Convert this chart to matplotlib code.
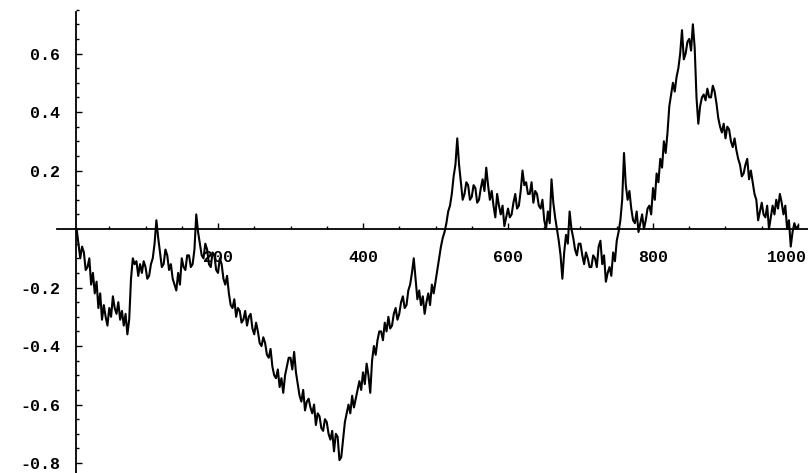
import matplotlib.pyplot as plt
import matplotlib.transforms as mtransforms
import numpy as np
from matplotlib.ticker import MultipleLocator, FixedLocator

# random walk, one value every 2.5 steps from step 5 to 1000
walk = [
    0.00, -0.05, -0.10, -0.06, -0.08, -0.14, -0.13, -0.10, -0.19, -0.15,
    -0.22, -0.18, -0.27, -0.22, -0.31, -0.26, -0.30, -0.33, -0.27, -0.30,
    -0.23, -0.27, -0.29, -0.25, -0.31, -0.28, -0.33, -0.29, -0.36, -0.31,
    -0.17, -0.10, -0.12, -0.11, -0.16, -0.12, -0.15, -0.11, -0.13, -0.17,
    -0.16, -0.12, -0.10, -0.05, 0.03, -0.03, -0.08, -0.13, -0.12, -0.07,
    -0.09, -0.14, -0.12, -0.17, -0.19, -0.21, -0.15, -0.19, -0.10, -0.13,
    -0.14, -0.09, -0.09, -0.13, -0.12, -0.07, 0.05, -0.01, -0.05, -0.09,
    -0.10, -0.05, -0.07, -0.12, -0.13, -0.08, -0.09, -0.14, -0.15, -0.10,
    -0.12, -0.17, -0.19, -0.16, -0.22, -0.26, -0.27, -0.24, -0.30, -0.27,
    -0.28, -0.32, -0.31, -0.28, -0.33, -0.30, -0.29, -0.34, -0.36, -0.32,
    -0.35, -0.39, -0.40, -0.37, -0.39, -0.43, -0.44, -0.41, -0.47, -0.50,
    -0.51, -0.48, -0.54, -0.51, -0.56, -0.50, -0.47, -0.44, -0.44, -0.48,
    -0.42, -0.49, -0.53, -0.57, -0.59, -0.55, -0.62, -0.59, -0.58, -0.61,
    -0.63, -0.60, -0.67, -0.63, -0.64, -0.68, -0.69, -0.65, -0.66, -0.70,
    -0.72, -0.69, -0.76, -0.70, -0.71, -0.79, -0.78, -0.72, -0.66, -0.63,
    -0.60, -0.63, -0.57, -0.61, -0.58, -0.55, -0.52, -0.55, -0.49, -0.53,
    -0.46, -0.50, -0.56, -0.45, -0.40, -0.43, -0.38, -0.35, -0.35, -0.38,
    -0.32, -0.35, -0.30, -0.34, -0.33, -0.29, -0.27, -0.31, -0.29, -0.25,
    -0.23, -0.27, -0.26, -0.21, -0.19, -0.15, -0.10, -0.17, -0.24, -0.21,
    -0.26, -0.23, -0.29, -0.25, -0.22, -0.26, -0.19, -0.22, -0.18, -0.14,
    -0.10, -0.06, -0.03, -0.01, 0.02, 0.06, 0.08, 0.12, 0.18, 0.22,
    0.31, 0.22, 0.16, 0.10, 0.12, 0.16, 0.15, 0.10, 0.11, 0.15,
    0.14, 0.09, 0.10, 0.14, 0.17, 0.13, 0.21, 0.15, 0.10, 0.13,
    0.08, 0.04, 0.12, 0.08, 0.05, 0.08, 0.01, 0.04, 0.07, 0.04,
    0.05, 0.09, 0.12, 0.07, 0.08, 0.13, 0.20, 0.15, 0.16, 0.12,
    0.12, 0.16, 0.09, 0.13, 0.12, 0.08, 0.07, 0.10, 0.03, 0.00,
    0.06, 0.02, 0.17, 0.09, 0.04, 0.00, -0.04, -0.09, -0.17, -0.08,
    -0.02, -0.05, 0.06, 0.00, -0.03, -0.07, -0.09, -0.05, -0.05, -0.09,
    -0.12, -0.08, -0.10, -0.13, -0.13, -0.09, -0.10, -0.13, -0.06, -0.04,
    -0.12, -0.09, -0.18, -0.15, -0.13, -0.16, -0.08, -0.11, -0.04, -0.01,
    0.03, 0.10, 0.26, 0.15, 0.10, 0.13, 0.07, 0.03, 0.02, 0.06,
    -0.01, 0.02, 0.05, 0.00, 0.03, 0.07, 0.08, 0.05, 0.14, 0.10,
    0.19, 0.16, 0.24, 0.21, 0.30, 0.26, 0.33, 0.42, 0.46, 0.50,
    0.47, 0.52, 0.55, 0.60, 0.68, 0.58, 0.60, 0.64, 0.65, 0.61,
    0.70, 0.62, 0.45, 0.36, 0.42, 0.45, 0.46, 0.44, 0.48, 0.45,
    0.45, 0.49, 0.47, 0.43, 0.38, 0.35, 0.33, 0.36, 0.31, 0.35,
    0.34, 0.30, 0.28, 0.31, 0.27, 0.24, 0.22, 0.18, 0.19, 0.22,
    0.24, 0.17, 0.20, 0.16, 0.12, 0.10, 0.03, 0.06, 0.09, 0.05,
    0.04, 0.08, 0.00, 0.04, 0.08, 0.05, 0.10, 0.07, 0.12, 0.09,
    0.05, 0.08, 0.00, 0.03, -0.06, -0.01, 0.02, 0.00, 0.01,
]
steps = np.arange(len(walk)) * 2.5 + 5
xticks = [200, 400, 600, 800, 1000]
yticks = [-0.8, -0.6, -0.4, -0.2, 0.2, 0.4, 0.6]

fig = plt.figure(figsize=(8.08, 4.73), dpi=100)
ax = fig.add_axes([0, 0, 1, 1])
ax.plot(steps, walk, color='black', lw=1.5)

ax.set_xlim(-100.7, 1013.8)
ax.set_ylim(-0.834, 0.783)

# axes cross near the origin, Mathematica style
for s in ['top', 'right']:
    ax.spines[s].set_visible(False)
ax.spines['left'].set_position(('data', 4))
ax.spines['bottom'].set_position(('data', 0))
ax.spines['left'].set_bounds(-0.834, 0.742)
ax.spines['bottom'].set_bounds(-22, 1013.8)
ax.spines['left'].set_linewidth(1.3)
ax.spines['bottom'].set_linewidth(1.3)

ax.xaxis.set_major_locator(FixedLocator(xticks))
ax.xaxis.set_minor_locator(FixedLocator([t for t in range(50, 1001, 50) if t % 200]))
ax.yaxis.set_major_locator(FixedLocator(yticks))
ax.yaxis.set_minor_locator(MultipleLocator(0.05))
# the last label sits against the right edge, drawn separately below
ax.set_xticklabels([str(t) if t < 1000 else '' for t in xticks])
ax.set_yticklabels(['%.1f' % t for t in yticks])

ax.tick_params(axis='x', which='major', direction='in', length=4.5, width=1, pad=15)
ax.tick_params(axis='x', which='minor', direction='in', length=2.5, width=1)
ax.tick_params(axis='y', which='major', direction='in', length=4.5, width=1, pad=11.5)
ax.tick_params(axis='y', which='minor', direction='in', length=2.5, width=1)
for lab in ax.get_xticklabels() + ax.get_yticklabels():
    lab.set_fontfamily('Liberation Mono')
    lab.set_fontweight('bold')
    lab.set_fontsize(12)

trans = mtransforms.blended_transform_factory(ax.transAxes, ax.transData)
ax.text(0.999, -0.072, '1000', transform=trans, ha='right', va='top',
        fontfamily='Liberation Mono', fontweight='bold', fontsize=12)

fig.savefig('out.png', dpi=100)
